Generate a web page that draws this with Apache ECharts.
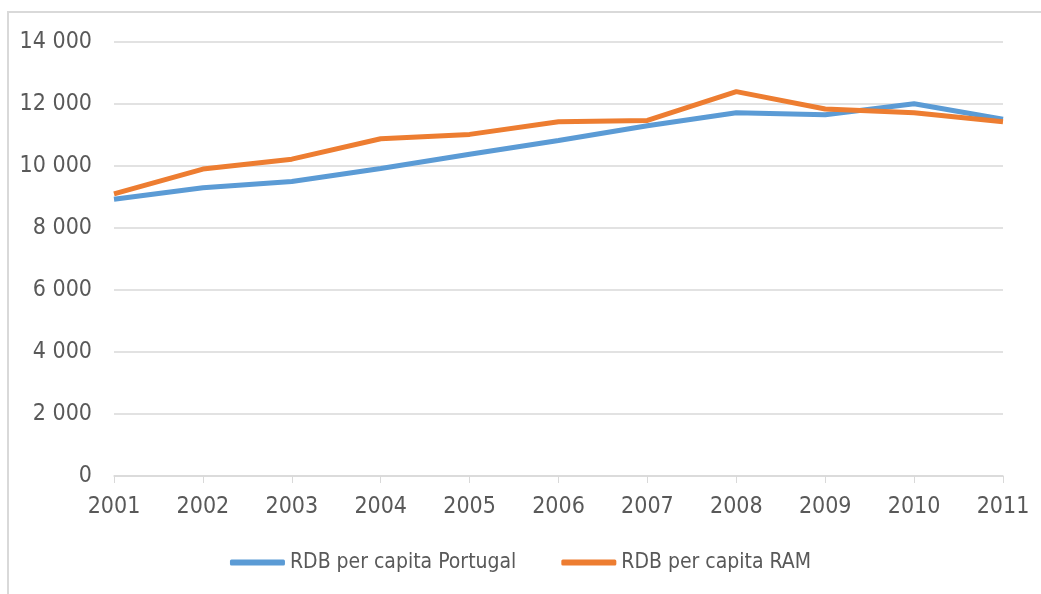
<!DOCTYPE html>
<html lang="pt">
<head>
    <meta charset="UTF-8">
    <title>RDB per capita</title>
    <style>
      * { padding: 0; margin: 0; }
      body { background: #fff; }
    </style>
</head>
<body>
    <div id="main" style="width: 1041px;height:594px;"></div>
    <script src="https://cdn.jsdelivr.net/npm/echarts@6/dist/echarts.min.js"></script>
    <script>
    // dados
    var anos = ['2001','2002','2003','2004','2005','2006','2007','2008','2009','2010','2011'];
    var rdbPortugal = [8930, 9300, 9500, 9920, 10380, 10820, 11300, 11720, 11650, 12010, 11510];
    var rdbRAM = [9100, 9900, 10220, 10880, 11020, 11430, 11470, 12400, 11840, 11720, 11430];
    var nomes = ['RDB per capita Portugal', 'RDB per capita RAM'];

    var fonte = '"Liberation Sans Narrow", "DejaVu Sans Condensed", sans-serif';

    var option = {
        animation: false,
        graphic: [
            {
                type: 'rect',
                shape: { x: 8, y: 12, width: 1100, height: 700 },
                style: { fill: 'none', stroke: '#d9d9d9', lineWidth: 2 }
            }
        ],
        legend: {
            bottom: 16,
            left: 'center',
            itemWidth: 55,
            itemHeight: 6,
            itemGap: 45,
            icon: 'roundRect',
            textStyle: { fontFamily: fonte, fontSize: 21, color: '#595959' },
            data: nomes
        },
        grid: { left: 114, right: 38, top: 42, bottom: 118 },
        xAxis: {
            type: 'category',
            boundaryGap: false,
            data: anos,
            axisLine: { lineStyle: { color: '#d9d9d9', width: 1.5 } },
            axisTick: { show: true, length: 7, lineStyle: { color: '#d9d9d9' } },
            axisLabel: { fontFamily: fonte, fontSize: 23, color: '#595959', margin: 20 }
        },
        yAxis: {
            type: 'value',
            min: 0,
            max: 14000,
            interval: 2000,
            axisLine: { show: false },
            axisTick: { show: false },
            splitLine: { lineStyle: { color: '#d9d9d9', width: 1.5 } },
            axisLabel: {
                fontFamily: fonte, fontSize: 23, color: '#595959', margin: 22,
                formatter: function (v) {
                    return String(v).replace(/\B(?=(\d{3})+(?!\d))/g, ' ');
                }
            }
        },
        series: [
            {
                name: nomes[0],
                type: 'line',
                data: rdbPortugal,
                showSymbol: false,
                lineStyle: { width: 5, color: '#5b9bd5' },
                itemStyle: { color: '#5b9bd5' }
            },
            {
                name: nomes[1],
                type: 'line',
                data: rdbRAM,
                showSymbol: false,
                lineStyle: { width: 5, color: '#ed7d31' },
                itemStyle: { color: '#ed7d31' }
            }
        ]
    };

    var myChart = echarts.init(document.getElementById('main'));
    myChart.setOption(option);
    </script>
</body>
</html>
